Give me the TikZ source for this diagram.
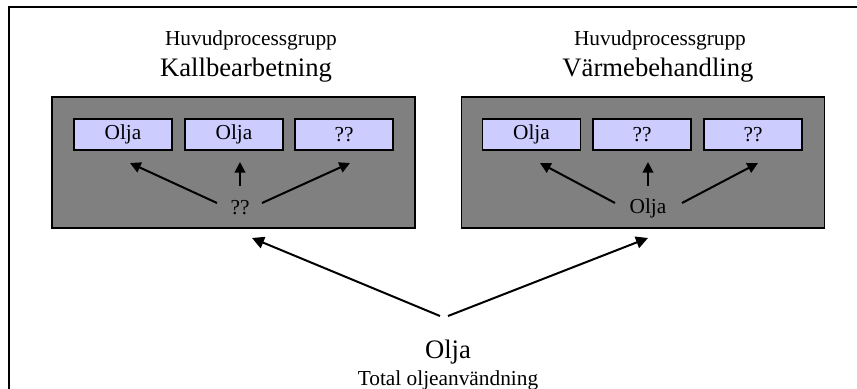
\documentclass[tikz,border=0pt]{standalone}
\usepackage{fontspec}
\setmainfont{Liberation Serif}
\usetikzlibrary{arrows.meta,calc}
\begin{document}
\begin{tikzpicture}[x=0.75pt,y=-0.75pt,
  graybox/.style={draw=black,line width=1.2pt,fill=gray!100,minimum width=272pt,minimum height=98pt,inner sep=0pt},
  smallbox/.style={draw=black,line width=1.2pt,fill={rgb,255:red,204;green,204;blue,255},minimum width=73.5pt,minimum height=23.25pt,inner sep=0pt,font=\fontsize{16}{18}\selectfont},
  smalltxt/.style={font=\fontsize{16}{18}\selectfont,inner sep=0pt},
  bigtxt/.style={font=\fontsize{20}{22}\selectfont,inner sep=0pt},
  arr/.style={line width=1.5pt,-{Triangle[length=9pt,width=9pt]}},
  sarr/.style={line width=1.5pt,-{Triangle[length=8pt,width=8pt]}}]
\useasboundingbox (0,0) rectangle (857,389);
\coordinate (ftop) at (857,7);
\coordinate (fcorner) at (9,7);
\coordinate (fbot) at (9,392);
\draw[line width=1.5pt] (ftop) -- (fcorner) -- (fbot);
% titles
\node[smalltxt] (h1) at (251,40) {Huvudprocessgrupp};
\node[bigtxt] (t1) at (246,70) {Kallbearbetning};
\node[smalltxt] (h2) at (660,40) {Huvudprocessgrupp};
\node[bigtxt] (t2) at (658,70) {Värmebehandling};
% gray boxes
\node[graybox] (g1) at (233.5,162.5) {};
\node[graybox] (g2) at (643,162.5) {};
% inner boxes
\node[smallbox] (a1) at (123,134.5) {Olja};
\node[smallbox] (a2) at (234,134.5) {Olja};
\node[smallbox] (a3) at (344,134.5) {??};
\node[smallbox] (b1) at (531.5,134.5) {Olja};
\node[smallbox] (b2) at (642,134.5) {??};
\node[smallbox] (b3) at (753,134.5) {??};
% labels
\node[smalltxt] (q1) at (240,208) {??};
\node[smalltxt] (q2) at (648,208) {Olja};
% inner arrows
\coordinate (q1l) at (217,203); \coordinate (q1le) at (130,163);
\coordinate (q1c) at (240,186); \coordinate (q1ce) at (240,162);
\coordinate (q1r) at (262,203); \coordinate (q1re) at (350,163);
\draw[sarr] (q1l) -- (q1le);
\draw[sarr] (q1c) -- (q1ce);
\draw[sarr] (q1r) -- (q1re);
\coordinate (q2l) at (615,203); \coordinate (q2le) at (540,163);
\coordinate (q2c) at (648,186); \coordinate (q2ce) at (648,162);
\coordinate (q2r) at (682,203); \coordinate (q2re) at (758,163);
\draw[sarr] (q2l) -- (q2le);
\draw[sarr] (q2c) -- (q2ce);
\draw[sarr] (q2r) -- (q2re);
% bottom
\node[font=\fontsize{20}{22}\selectfont,inner sep=0pt] (o) at (448,352) {Olja};
\node[smalltxt] (tot) at (448,380.5) {Total oljeanvändning};
\coordinate (ol) at (440,316); \coordinate (ole) at (252,238);
\coordinate (or) at (448,316); \coordinate (ore) at (648,238);
\draw[arr] (ol) -- (ole);
\draw[arr] (or) -- (ore);
\end{tikzpicture}
\end{document}
